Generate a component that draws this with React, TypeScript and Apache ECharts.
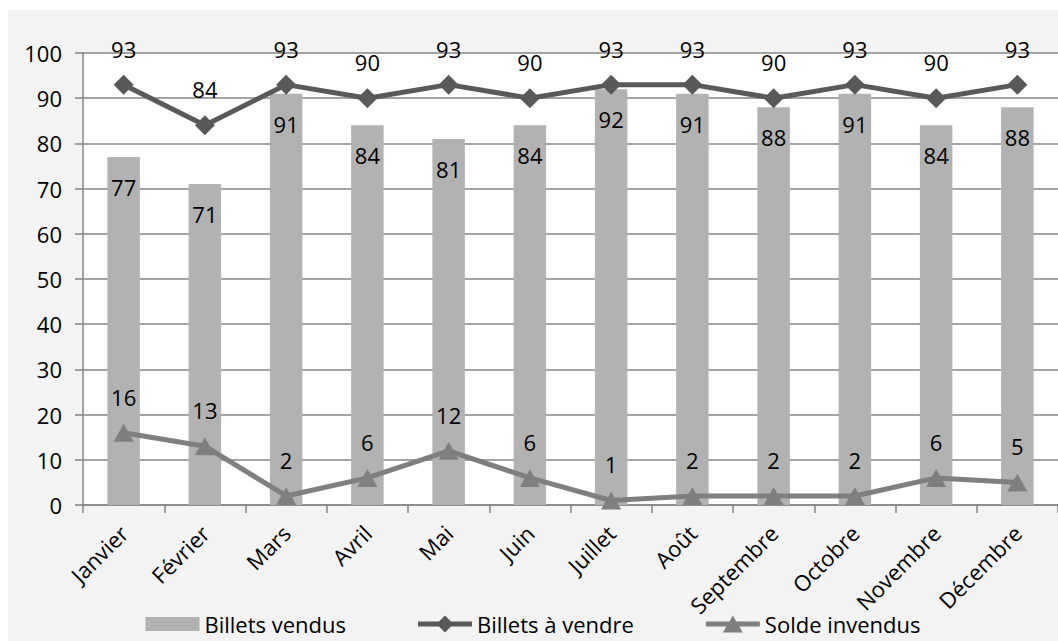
import React, { useEffect, useRef } from "react";
import * as echarts from "echarts";

const categories = ["Janvier", "Février", "Mars", "Avril", "Mai", "Juin", "Juillet", "Août", "Septembre", "Octobre", "Novembre", "Décembre"];
const billetsVendus = [77, 71, 91, 84, 81, 84, 92, 91, 88, 91, 84, 88];
const billetsAVendre = [93, 84, 93, 90, 93, 90, 93, 93, 90, 93, 90, 93];
const soldeInvendus = [16, 13, 2, 6, 12, 6, 1, 2, 2, 2, 6, 5];
const yTicks = { min: 0, max: 100, interval: 10 };

const FONT = "Open Sans";
const FS = 22;

const ICON_BAR = "path://M0,1.5 L54,1.5 L54,15.5 L0,15.5 Z";
const ICON_DIAMOND = "path://M0,6 L21,6 L27,0 L33,6 L54,6 L54,11 L33,11 L27,17 L21,11 L0,11 Z";
const ICON_TRIANGLE = "path://M0,6 L23.5,6 L27,0 L30.5,6 L54,6 L54,11 L33.5,11 L37,17 L17,17 L20.5,11 L0,11 Z";

export default function App() {
  const ref = useRef<HTMLDivElement>(null);
  useEffect(() => {
    document.body.style.margin = "0";
    const chart = echarts.init(ref.current!, undefined, { renderer: "svg" });
    chart.setOption({
      animation: false,
      backgroundColor: "transparent",
      textStyle: { fontFamily: FONT, color: "#000" },
      grid: {
        left: 75,
        top: 43,
        right: -2,
        bottom: 136,
        show: true,
        backgroundColor: "#ffffff",
        borderWidth: 0,
        containLabel: false,
      },
      legend: {
        left: "center",
        top: 598,
        itemWidth: 54,
        itemHeight: 17,
        itemGap: 72,
        textStyle: { fontFamily: FONT, fontSize: FS, color: "#000" },
        data: [
          { name: "Billets vendus", icon: ICON_BAR },
          { name: "Billets à vendre", icon: ICON_DIAMOND },
          { name: "Solde invendus", icon: ICON_TRIANGLE },
        ],
      },
      xAxis: {
        type: "category",
        data: categories,
        boundaryGap: true,
        axisLine: { show: true, lineStyle: { color: "#868686", width: 1.5 } },
        axisTick: { show: true, length: 8, alignWithLabel: false, lineStyle: { color: "#868686", width: 1.5 } },
        axisLabel: { rotate: 45, margin: 24, fontFamily: FONT, fontSize: FS, color: "#000", interval: 0 },
      },
      yAxis: {
        type: "value",
        min: yTicks.min,
        max: yTicks.max,
        interval: yTicks.interval,
        axisLine: { show: true, lineStyle: { color: "#868686", width: 1.5 } },
        axisTick: { show: true, length: 8, lineStyle: { color: "#868686", width: 1.5 } },
        splitLine: { show: true, lineStyle: { color: "#868686", width: 1.5 } },
        axisLabel: { margin: 21, fontFamily: FONT, fontSize: FS, color: "#000" },
      },
      series: [
        {
          name: "Billets vendus",
          type: "bar",
          data: billetsVendus,
          barWidth: "40%",
          itemStyle: { color: "#b2b2b2" },
          label: { show: true, position: "insideTop", distance: 19, fontFamily: FONT, fontSize: FS, color: "#000" },
          z: 2,
        },
        {
          name: "Billets à vendre",
          type: "line",
          data: billetsAVendre,
          symbol: "diamond",
          symbolSize: 20,
          lineStyle: { color: "#595959", width: 5 },
          itemStyle: { color: "#595959" },
          label: { show: true, position: "top", distance: 15, fontFamily: FONT, fontSize: FS, color: "#000" },
          z: 3,
        },
        {
          name: "Solde invendus",
          type: "line",
          data: soldeInvendus,
          symbol: "triangle",
          symbolSize: [20, 18],
          lineStyle: { color: "#7f7f7f", width: 5 },
          itemStyle: { color: "#7f7f7f" },
          label: { show: true, position: "top", distance: 16, fontFamily: FONT, fontSize: FS, color: "#000" },
          z: 3,
        },
      ],
    });
    return () => chart.dispose();
  }, []);
  return (
    <div style={{ position: "absolute", left: 0, top: 0, width: 1058, height: 641, background: "#ffffff", overflow: "hidden" }}>
      <div style={{ position: "absolute", left: 8, top: 10, width: 1050, height: 631, background: "#f2f3f2" }}>
        <div ref={ref} style={{ width: 1050, height: 631 }} />
      </div>
    </div>
  );
}
